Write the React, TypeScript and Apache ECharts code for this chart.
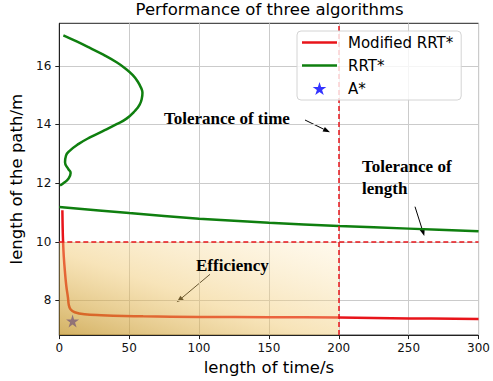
import React, { useEffect, useRef } from 'react';
import * as echarts from 'echarts';

const chartTitle = 'Performance of three algorithms';
const xAxisName = 'length of time/s';
const yAxisName = 'length of the path/m';
const xTicks = [0, 50, 100, 150, 200, 250, 300];
const yTicks = [8, 10, 12, 14, 16];
const xRange = [0, 300];
const yRange = [6.82, 17.45];

const modifiedName = 'Modified RRT*';
const modifiedTime = [2.2, 2.4, 2.7, 3.2, 4.0, 5.0, 6.2, 6.8, 8.0, 11, 18, 30, 60, 100, 150, 200, 250, 300];
const modifiedLength = [11.08, 10.5, 10.0, 9.5, 9.0, 8.5, 8.1, 7.85, 7.7, 7.6, 7.53, 7.5, 7.46, 7.44, 7.43, 7.42, 7.39, 7.37];

const rrtName = 'RRT*';
// upper part of the RRT* curve (time doubles back as length grows)
const rrtUpperTime = [2.9, 12.4, 21.9, 31.5, 41.0, 47.5, 52.6, 56.3, 58.5, 59.5, 59.1, 57.5, 54.1, 48.1, 41.0, 31.5, 21.9, 13.6, 7.6, 4.8, 4.1, 6.5, 8.1, 6.5, 2.9, 0.5];
const rrtUpperLength = [17.04, 16.83, 16.61, 16.38, 16.12, 15.9, 15.68, 15.45, 15.25, 15.08, 14.9, 14.68, 14.46, 14.2, 14.01, 13.78, 13.56, 13.33, 13.11, 12.94, 12.71, 12.48, 12.35, 12.15, 12.0, 11.92];
// lower part of the RRT* curve
const rrtLowerTime = [0, 50, 100, 150, 200, 250, 300];
const rrtLowerLength = [11.19, 10.98, 10.79, 10.65, 10.54, 10.45, 10.36];

const aStarName = 'A*';
const aStarTime = [9.5];
const aStarLength = [7.3];

const timeTolerance = 200;
const lengthTolerance = 10;

const annotationTexts = ['Tolerance of time', 'Tolerance of\nlength', 'Efficiency'];

const starPath =
  'path://M50 0 L61.17 34.63 L97.55 34.55 L68.07 55.87 L79.39 90.45 L50 69 L20.61 90.45 L31.93 55.87 L2.45 34.55 L38.83 34.63 Z';
const lineIconPath = 'path://M0 0 H70 V5 H0 Z';

const zip = (xs: number[], ys: number[]) => xs.map((x, i) => [x, ys[i]]);

function arrow(x1: number, y1: number, x2: number, y2: number) {
  const dx = x2 - x1;
  const dy = y2 - y1;
  const len = Math.sqrt(dx * dx + dy * dy);
  const ux = dx / len;
  const uy = dy / len;
  const hl = 7;
  const hw = 2.6;
  const bx = x2 - ux * hl;
  const by = y2 - uy * hl;
  return {
    type: 'group',
    z: 50,
    children: [
      {
        type: 'line',
        shape: { x1, y1, x2: bx, y2: by },
        style: { stroke: '#000', lineWidth: 1 },
      },
      {
        type: 'polygon',
        shape: {
          points: [
            [x2, y2],
            [bx - uy * hw, by + ux * hw],
            [bx + uy * hw, by - ux * hw],
          ],
        },
        style: { fill: '#000' },
      },
    ],
  };
}

const RED = '#e8141a';
const GREEN = '#0f7f0f';

export default function App() {
  const ref = useRef<HTMLDivElement>(null);
  useEffect(() => {
    if (!ref.current) return;
    const chart = echarts.init(ref.current, undefined, { renderer: 'svg' });
    const annFont = { fontSize: 17, fontWeight: 'bold', fontFamily: '"Liberation Serif", serif', fill: '#000' };
    const option: any = {
      animation: false,
      backgroundColor: '#fff',
      textStyle: { fontFamily: '"DejaVu Sans", sans-serif' },
      title: {
        text: chartTitle,
        left: 269.6,
        textAlign: 'center',
        top: 1,
        padding: 0,
        textStyle: { fontSize: 16.5, fontWeight: 'normal', color: '#000', fontFamily: '"DejaVu Sans", sans-serif' },
      },
      grid: {
        left: 59.3,
        right: 13,
        top: 23.3,
        bottom: 45.3,
        show: true,
        borderColor: '#222',
        borderWidth: 1,
        backgroundColor: 'transparent',
      },
      legend: {
        left: 297,
        top: 31,
        orient: 'vertical',
        data: [
          { name: modifiedName, icon: lineIconPath, itemStyle: { color: RED } },
          { name: rrtName, icon: lineIconPath, itemStyle: { color: GREEN } },
          { name: aStarName, icon: starPath, itemStyle: { color: '#0000ff' } },
        ],
        itemWidth: 35,
        itemHeight: 13,
        itemGap: 8,
        padding: [4, 8, 4, 5],
        backgroundColor: 'rgba(255,255,255,0.8)',
        borderColor: '#d4d4d4',
        borderWidth: 1,
        borderRadius: 4,
        textStyle: { fontSize: 15, color: '#000', fontFamily: '"DejaVu Sans", sans-serif', padding: [0, 0, 0, 6] },
        z: 20,
      },
      xAxis: {
        type: 'value',
        min: xRange[0],
        max: xRange[1],
        interval: 50,
        name: xAxisName,
        nameLocation: 'middle',
        nameGap: 22,
        nameTextStyle: { fontSize: 16.5, color: '#000' },
        axisLine: { show: true, lineStyle: { color: '#222', width: 1 } },
        axisTick: { show: true, length: 4, lineStyle: { color: '#222' } },
        axisLabel: { color: '#111', fontSize: 12, margin: 7, customValues: xTicks },
        splitLine: { show: true, lineStyle: { color: '#cbcbcb', width: 1 } },
      },
      yAxis: {
        type: 'value',
        min: yRange[0],
        max: yRange[1],
        name: yAxisName,
        nameLocation: 'middle',
        nameGap: 25,
        nameTextStyle: { fontSize: 16.5, color: '#000' },
        axisLine: { show: true, lineStyle: { color: '#222', width: 1 } },
        axisTick: { show: true, length: 4, lineStyle: { color: '#222' }, customValues: yTicks },
        axisLabel: { color: '#111', fontSize: 12, margin: 8, customValues: yTicks },
        splitLine: { show: true, lineStyle: { color: '#cbcbcb', width: 1 } },
      },
      series: [
        {
          name: rrtName,
          type: 'line',
          data: zip(rrtUpperTime, rrtUpperLength),
          smooth: 0.5,
          showSymbol: false,
          symbol: 'none',
          lineStyle: { color: GREEN, width: 2.5 },
          itemStyle: { color: GREEN },
          z: 2,
        },
        {
          name: rrtName,
          type: 'line',
          data: zip(rrtLowerTime, rrtLowerLength),
          smooth: 0.3,
          showSymbol: false,
          symbol: 'none',
          lineStyle: { color: GREEN, width: 2.5 },
          itemStyle: { color: GREEN },
          z: 2,
        },
        {
          name: modifiedName,
          type: 'line',
          data: zip(modifiedTime, modifiedLength),
          smooth: 0.4,
          showSymbol: false,
          symbol: 'none',
          lineStyle: { color: RED, width: 2.5 },
          itemStyle: { color: RED },
          z: 3,
        },
        {
          name: aStarName,
          type: 'scatter',
          data: zip(aStarTime, aStarLength),
          symbol: starPath,
          symbolSize: 13,
          itemStyle: { color: '#0000ff' },
          z: 3,
        },
        {
          name: 'efficiency',
          type: 'line',
          data: [],
          z: 5,
          markArea: {
            silent: true,
            z: 10,
            itemStyle: {
              color: {
                type: 'linear',
                x: 0,
                y: 1,
                x2: 1,
                y2: 0,
                colorStops: [
                  { offset: 0, color: 'rgba(190,140,25,0.68)' },
                  { offset: 0.45, color: 'rgba(238,195,100,0.45)' },
                  { offset: 1, color: 'rgba(255,238,200,0.32)' },
                ],
              },
            },
            data: [[{ coord: [xRange[0], yRange[0]] }, { coord: [timeTolerance, lengthTolerance] }]],
          },
        },
        {
          name: 'tolerance',
          type: 'line',
          data: [],
          z: 6,
          markLine: {
            silent: true,
            z: 12,
            symbol: 'none',
            label: { show: false },
            lineStyle: { color: RED, width: 1.5, type: [5, 3] },
            data: [{ xAxis: timeTolerance }, { yAxis: lengthTolerance }],
          },
        },
      ],
      graphic: [
        { type: 'text', z: 50, style: { ...annFont, text: annotationTexts[0], x: 164, y: 118.5, verticalAlign: 'middle' } },
        arrow(305, 120, 330, 132.3),
        {
          type: 'text',
          z: 50,
          style: { ...annFont, text: annotationTexts[1], x: 362, y: 156, verticalAlign: 'top', lineHeight: 21.6 },
        },
        arrow(415, 206.7, 424.3, 236),
        { type: 'text', z: 50, style: { ...annFont, text: annotationTexts[2], x: 196, y: 265, verticalAlign: 'middle' } },
        arrow(210, 274.3, 176.7, 302.3),
      ],
    };
    chart.setOption(option);
    return () => chart.dispose();
  }, []);
  return <div ref={ref} style={{ position: 'fixed', left: 0, top: 0, width: 493, height: 381 }} />;
}
